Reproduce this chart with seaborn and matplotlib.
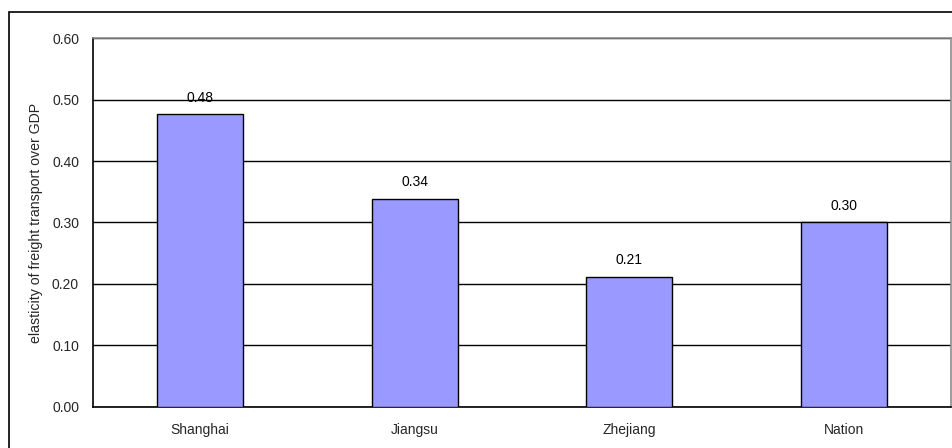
import matplotlib
matplotlib.use("Agg")
import matplotlib.pyplot as plt
from matplotlib.patches import Rectangle
from matplotlib.ticker import FixedLocator
import seaborn as sns
import pandas as pd

regions = ["Shanghai", "Jiangsu", "Zhejiang", "Nation"]
elasticity = [0.476, 0.338, 0.212, 0.30]
y_ticks = [0.0, 0.1, 0.2, 0.3, 0.4, 0.5, 0.6]
y_label = "elasticity of freight transport over GDP"

df = pd.DataFrame({"region": regions, "elasticity": elasticity})

sns.set_style("white")
plt.rcParams["font.family"] = ["Liberation Sans", "DejaVu Sans"]

fig = plt.figure(figsize=(9.53, 4.48), dpi=100)
ax = fig.add_axes([93 / 953, 1 - 406.7 / 448, (951 - 93) / 953, (406.7 - 38.3) / 448])

# outer chart frame
fig.patches.append(Rectangle((9 / 953, -0.2), 1.2, 0.2 + (448 - 12) / 448,
                             transform=fig.transFigure, fill=False,
                             edgecolor="black", linewidth=1.2, zorder=0))

sns.barplot(data=df, x="region", y="elasticity", color="#9999FF",
            edgecolor="black", linewidth=1.0, width=0.4, saturation=1,
            ax=ax, zorder=3)

for i, v in enumerate(elasticity):
    ax.annotate(f"{v:.2f}", (i, v), xytext=(0, 7), textcoords="offset points",
                ha="center", va="bottom", fontsize=10, color="black")

ax.set_xlim(-0.5, len(regions) - 0.5)
ax.set_ylim(0, 0.6)
ax.set_yticks(y_ticks)
ax.set_yticklabels([f"{t:.2f}" for t in y_ticks])
ax.yaxis.grid(True, color="black", linewidth=1.0)
ax.set_axisbelow(True)

ax.set_xlabel("")
ax.set_ylabel(y_label, fontsize=10.2)
ax.yaxis.set_label_coords((43 - 93) / 858, 0.5)

ax.tick_params(axis="y", length=0, pad=10, labelsize=10)
ax.tick_params(axis="x", which="major", length=0, pad=11.5, labelsize=10)
ax.xaxis.set_minor_locator(FixedLocator([0.5, 1.5, 2.5]))
ax.tick_params(axis="x", which="minor", direction="in", length=4, width=1, color="black")

for side in ("left", "bottom"):
    ax.spines[side].set_color("black")
    ax.spines[side].set_linewidth(1.2)
for side in ("top", "right"):
    ax.spines[side].set_visible(True)
    ax.spines[side].set_color("#8c8c8c")
    ax.spines[side].set_linewidth(1.2)

fig.savefig("out.png", dpi=100)
